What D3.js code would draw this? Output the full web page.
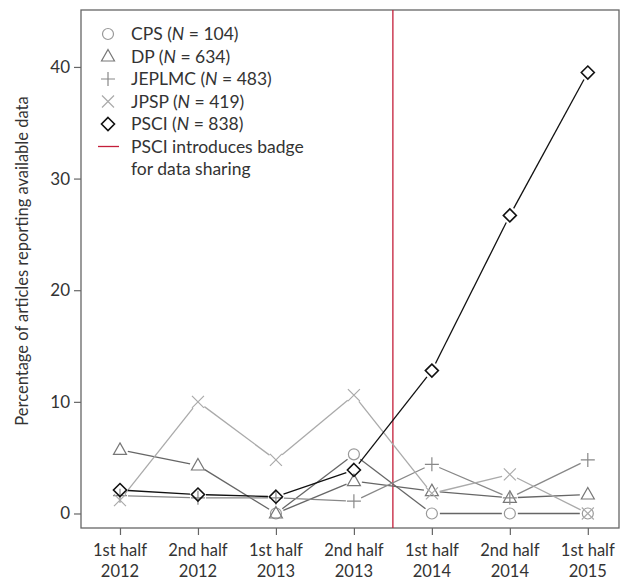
<!DOCTYPE html>
<html>
<head>
<meta charset="utf-8">
<script src="https://cdn.jsdelivr.net/npm/d3@7"></script>
<style>
body { margin: 0; background: #fff; }
text { font-family: Lato, "Open Sans", sans-serif; fill: #333; }
</style>
</head>
<body>
<div id="chart"></div>
<script>
var periods = ['1st half|2012', '2nd half|2012', '1st half|2013', '2nd half|2013', '1st half|2014', '2nd half|2014', '1st half|2015'];
var yTicks = [0, 10, 20, 30, 40];

// null = journal not sampled in that period
var cps    = [null, null, 0, 5.3, 0, 0, 0];
var dp     = [5.7, 4.3, 0, 2.9, 2.0, 1.4, 1.7];
var jeplmc = [1.6, 1.4, 1.4, 1.1, 4.4, 1.4, 4.8];
var jpsp   = [1.2, 10.0, 4.8, 10.6, 1.8, 3.5, 0];
var psci   = [2.1, 1.7, 1.5, 3.9, 12.8, 26.7, 39.5];
var badgeAt = 4.5;

var series = [
    {name: 'CPS', n: 104, values: cps, shape: 'circle', color: '#999', line: '#666'},
    {name: 'DP', n: 634, values: dp, shape: 'triangle', color: '#777', line: '#666'},
    {name: 'JEPLMC', n: 483, values: jeplmc, shape: 'plus', color: '#888', line: '#888'},
    {name: 'JPSP', n: 419, values: jpsp, shape: 'cross', color: '#aaa', line: '#aaa'},
    {name: 'PSCI', n: 838, values: psci, shape: 'diamond', color: '#111', line: '#111'}
];

var width = 622, height = 581;
var pLeft = 81, pRight = 619, pTop = 10, pBottom = 528;

var svg = d3.select('#chart').append('svg')
    .attr('width', width)
    .attr('height', height);

var x = d3.scaleLinear().domain([0.5, 7.4]).range([pLeft, pRight]);
var y = d3.scaleLinear().domain([-1.3, 45.1]).range([pBottom, pTop]);

// frame
svg.append('rect')
    .attr('x', pLeft).attr('y', pTop)
    .attr('width', pRight - pLeft).attr('height', pBottom - pTop)
    .attr('fill', 'none').attr('stroke', '#666').attr('stroke-width', 1.3);

var yAxis = svg.append('g')
    .attr('transform', `translate(${pLeft},0)`)
    .call(d3.axisLeft(y).tickValues(yTicks).tickSize(7).tickPadding(4));
yAxis.select('.domain').remove();
yAxis.selectAll('line').attr('stroke', '#666').attr('stroke-width', 1.2);
yAxis.selectAll('text').style('font-size', '17px').attr('fill', '#333');

var xAxis = svg.append('g')
    .attr('transform', `translate(0,${pBottom})`)
    .call(d3.axisBottom(x).tickValues(d3.range(1, 8)).tickSize(7).tickFormat(''));
xAxis.select('.domain').remove();
xAxis.selectAll('line').attr('stroke', '#666').attr('stroke-width', 1.2);

var xLab = svg.append('g');
periods.forEach((p, i) => {
    var parts = p.split('|');
    var t = xLab.append('text')
        .attr('x', x(i + 1)).attr('y', 556)
        .attr('text-anchor', 'middle')
        .style('font-size', '16.5px');
    t.append('tspan').attr('x', x(i + 1)).text(parts[0]);
    t.append('tspan').attr('x', x(i + 1)).attr('dy', 21).text(parts[1]);
});

svg.append('text')
    .attr('transform', 'translate(28,261)rotate(-90)')
    .attr('text-anchor', 'middle')
    .style('font-size', '16.5px')
    .text('Percentage of articles reporting available data');

// red badge line
svg.append('line')
    .attr('x1', x(badgeAt)).attr('x2', x(badgeAt))
    .attr('y1', pTop).attr('y2', pBottom)
    .attr('stroke', '#c41e3a').attr('stroke-width', 1.3);

function drawShape(g, shape, cx, cy, color) {
    if (shape == 'circle') {
        g.append('circle').attr('cx', cx).attr('cy', cy).attr('r', 5.5)
            .attr('fill', 'none').attr('stroke', color).attr('stroke-width', 1.2);
    } else if (shape == 'triangle') {
        g.append('path').attr('d', `M${cx},${cy - 7}L${cx + 6.5},${cy + 4.5}L${cx - 6.5},${cy + 4.5}Z`)
            .attr('fill', 'none').attr('stroke', color).attr('stroke-width', 1.2);
    } else if (shape == 'plus') {
        g.append('path').attr('d', `M${cx - 7},${cy}H${cx + 7}M${cx},${cy - 7}V${cy + 7}`)
            .attr('stroke', color).attr('stroke-width', 1.2);
    } else if (shape == 'cross') {
        g.append('path').attr('d', `M${cx - 6},${cy - 6}L${cx + 6},${cy + 6}M${cx - 6},${cy + 6}L${cx + 6},${cy - 6}`)
            .attr('stroke', color).attr('stroke-width', 1.2);
    } else {
        g.append('path').attr('d', `M${cx},${cy - 6.5}L${cx + 6.5},${cy}L${cx},${cy + 6.5}L${cx - 6.5},${cy}Z`)
            .attr('fill', 'none').attr('stroke', color).attr('stroke-width', 1.6);
    }
}

// lines with gaps around points (like R type = "b")
var gap = 8;
series.forEach(s => {
    var g = svg.append('g');
    var pts = s.values.map((v, i) => v == null ? null : [x(i + 1), y(v)]);
    for (var i = 0; i < pts.length - 1; i++) {
        var a = pts[i], b = pts[i + 1];
        if (!a || !b) continue;
        var dx = b[0] - a[0], dy = b[1] - a[1];
        var len = Math.sqrt(dx * dx + dy * dy);
        if (len < 2 * gap) continue;
        var ux = dx / len, uy = dy / len;
        g.append('line')
            .attr('x1', a[0] + ux * gap).attr('y1', a[1] + uy * gap)
            .attr('x2', b[0] - ux * gap).attr('y2', b[1] - uy * gap)
            .attr('stroke', s.line).attr('stroke-width', 1.3);
    }
    pts.forEach(p => { if (p) drawShape(g, s.shape, p[0], p[1], s.color); });
});

// legend
var legend = svg.append('g');
series.forEach((s, i) => {
    var ly = 34 + i * 22.5;
    drawShape(legend, s.shape, 108, ly, s.color);
    var t = legend.append('text').attr('x', 131).attr('y', ly + 6).style('font-size', '17.5px');
    t.append('tspan').text(s.name + ' (');
    t.append('tspan').style('font-style', 'italic').text('N');
    t.append('tspan').text(' = ' + s.n + ')');
});
var ry = 34 + 5 * 22.5;
legend.append('line').attr('x1', 98).attr('x2', 119).attr('y1', ry).attr('y2', ry)
    .attr('stroke', '#c41e3a').attr('stroke-width', 1.3);
legend.append('text').attr('x', 131).attr('y', ry + 6).style('font-size', '17.5px').text('PSCI introduces badge');
legend.append('text').attr('x', 131).attr('y', ry + 28).style('font-size', '17.5px').text('for data sharing');
</script>
</body>
</html>
